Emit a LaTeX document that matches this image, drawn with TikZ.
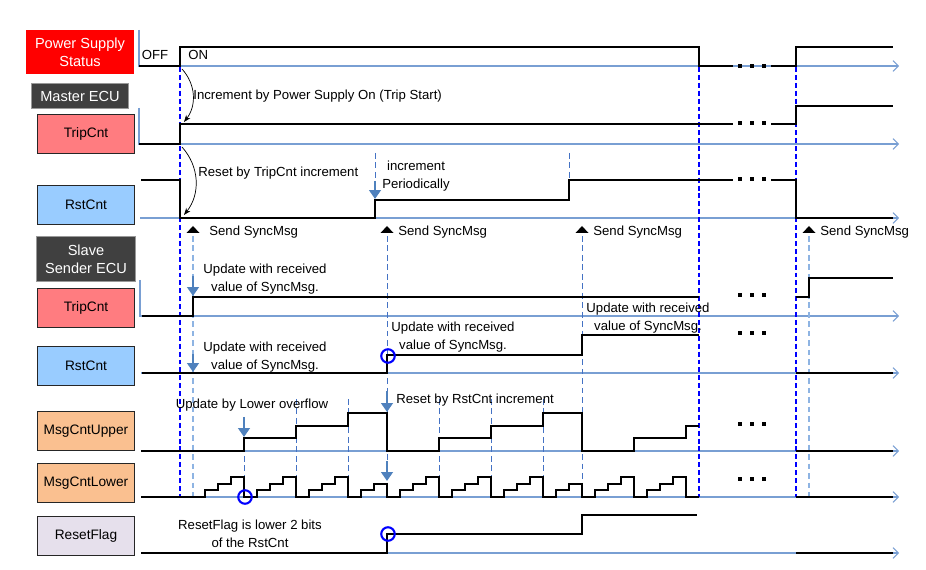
\documentclass[tikz,border=0pt]{standalone}
\usepackage{fontspec}
\setmainfont{Liberation Sans}
\usepackage{xcolor}
\usepackage{tikz}
\usetikzlibrary{
  arrows.meta,
  positioning,
  calc
}

\definecolor{psred}{RGB}{255,0,0}
\definecolor{ecugray}{RGB}{64,64,64}
\definecolor{tripfill}{RGB}{255,124,128}
\definecolor{rstfill}{RGB}{153,204,255}
\definecolor{msgfill}{RGB}{250,192,144}
\definecolor{flagfill}{RGB}{230,224,236}
\definecolor{axisblue}{RGB}{121,159,211}
\definecolor{tickblue}{RGB}{68,114,196}
\definecolor{paleblue}{RGB}{142,180,227}
\definecolor{arrowblue}{RGB}{79,129,189}

\begin{document}
\begin{tikzpicture}[
  x=0.02cm, y=-0.02cm,
  font=\fontsize{7.5}{10.2}\selectfont,
  lblbox/.style={draw=black!85, line width=0.8pt, minimum width=1.94cm, minimum height=0.78cm, inner sep=0pt, align=center, font=\fontsize{7.8}{10.2}\selectfont},
  ecubox/.style={fill=ecugray, draw=black!40, text=white, inner sep=0pt, align=center, font=\fontsize{8.3}{10.2}\selectfont},
  axisline/.style={draw=axisblue, line width=0.6pt, -{Straight Barb[length=3pt, width=6pt]}},
  originline/.style={draw=axisblue, line width=0.6pt},
  sigline/.style={draw=black, line width=1.2pt},
  syncline/.style={draw=blue, line width=0.8pt, dash pattern=on 2.8pt off 1.7pt},
  tickline/.style={draw=tickblue, line width=0.45pt, dash pattern=on 3.2pt off 2.2pt},
  paleline/.style={draw=paleblue, line width=0.6pt, dash pattern=on 3.2pt off 2.2pt},
  bendarrow/.style={draw=black, line width=0.4pt, -{Stealth[length=4pt, width=3pt]}},
  updarrow/.style={draw=arrowblue, line width=1.7pt, -{Triangle[length=5pt, width=6.5pt]}},
  hitring/.style={circle, draw=blue, line width=1.2pt, minimum size=0.27cm, inner sep=0pt},
  note/.style={inner sep=0pt, align=center}
]
\useasboundingbox (0,0) rectangle (926,570);

% ============ LABEL BOXES ============
\node[ecubox, fill=psred, draw=none, minimum width=2.16cm, minimum height=0.88cm] (psbox) at (80,52) {Power Supply\\Status};
\node[ecubox, minimum width=1.94cm, minimum height=0.5cm] (masterbox) at (80,96) {Master ECU};
\node[lblbox, fill=tripfill] (mtripbox) at (86,134) {TripCnt};
\node[lblbox, fill=rstfill] (mrstbox) at (86,205) {RstCnt};
\node[ecubox, minimum width=1.98cm, minimum height=0.9cm] (slavebox) at (86,259) {Slave\\Sender ECU};
\node[lblbox, fill=tripfill] (stripbox) at (86,308) {TripCnt};
\node[lblbox, fill=rstfill] (srstbox) at (86,366) {RstCnt};
\node[lblbox, fill=msgfill] (upperbox) at (86,431) {MsgCntUpper};
\node[lblbox, fill=msgfill] (lowerbox) at (86,483) {MsgCntLower};
\node[lblbox, fill=flagfill] (flagbox) at (86,536) {ResetFlag};

% ============ AXES ============
\draw[originline] (139,30) -- (139,67);
\draw[originline] (139,108) -- (139,145);
\draw[originline] (140,280) -- (140,317);
\foreach \y/\xs in {66/139,144/139,218/140,316/140,373/141,451/141,497/141,553/141}
  \draw[axisline] (\xs,\y) -- (899,\y);

% ============ TIMING LINES ============
\foreach \x in {180,699,796}
  \draw[syncline] (\x,67) -- (\x,497);
\foreach \x in {193,809}
  \draw[paleline] (\x,236) -- (\x,497);
\draw[tickline] (375,153) -- (375,200);
\draw[tickline] (569,153) -- (569,180);
\draw[tickline] (387,236) -- (387,484);
\draw[tickline] (582,236) -- (582,484);
\draw[tickline] (244,437) -- (244,497);
\foreach \x in {296,348,439,491,543}
  \draw[tickline] (\x,399) -- (\x,497);

% ============ MASTER ECU ============
\draw[sigline] (139,66) -- (180,66) -- (180,47) -- (699,47) -- (699,66) -- (733,66);
\draw[sigline] (771,66) -- (796,66) -- (796,47) -- (893,47);
\draw[sigline] (139,144) -- (180,144) -- (180,124) -- (733,124);
\draw[sigline] (771,124) -- (796,124) -- (796,106) -- (893,106);
\draw[sigline] (141,180) -- (180,180) -- (180,218) -- (375,218) -- (375,200)
   -- (569,200) -- (569,180) -- (733,180);
\draw[sigline] (771,180) -- (796,180) -- (796,218) -- (893,218);

\node[note] (offlbl) at (155,55) {OFF};
\node[note, anchor=west] (onlbl) at (188,55) {ON};
\coordinate (incA) at (182,69);
\coordinate (incB) at (184,122);
\draw[bendarrow] (incA) to[bend left=40] (incB);
\node[note, anchor=west] (inclbl) at (193,96) {Increment by Power Supply On (Trip Start)};
\coordinate (rstA) at (182,147);
\coordinate (rstB) at (184,215);
\draw[bendarrow] (rstA) to[bend left=40] (rstB);
\node[note, anchor=west] (rstlbl) at (198,173) {Reset by TripCnt increment};
\node[note] (perlbl) at (416,176) {increment\\Periodically};

% ============ SEND SYNCMSG ============
\foreach \x/\tx in {193/209,387/398,582/593,809/820} {
  \fill (\x-6.5,233) -- (\x+6.5,233) -- (\x,226) -- cycle;
  \node[note, anchor=west] (send\x) at (\tx,232) {Send SyncMsg};
}

% ============ SLAVE SENDER ECU ============
\draw[sigline] (142,316) -- (193,316) -- (193,297) -- (699,297);
\draw[sigline] (796,297) -- (809,297) -- (809,278) -- (893,278);
\draw[sigline] (142,373) -- (387,373) -- (387,355) -- (582,355) -- (582,335) -- (699,335);
\draw[sigline] (796,373) -- (893,373);
\node[note] (stripupd) at (265,279) {Update with received\\value of SyncMsg.};
\node[note] (srstupdA) at (265,357) {Update with received\\value of SyncMsg.};
\node[note] (srstupdB) at (453,337) {Update with received\\value of SyncMsg.};
\node[note] (srstupdC) at (648,318) {Update with received\\value of SyncMsg.};

% ============ MESSAGE COUNTER ============
\draw[sigline] (141,451) -- (244,451) -- (244,438) -- (296,438) -- (296,426) -- (348,426)
   -- (348,413) -- (387,413) -- (387,451) -- (439,451) -- (439,438) -- (491,438)
   -- (491,426) -- (543,426) -- (543,413) -- (582,413) -- (582,451) -- (634,451)
   -- (634,438) -- (686,438) -- (686,426) -- (699,426);
\draw[sigline] (796,451) -- (893,451);
\draw[sigline] (141,497)
   \foreach \s in {192,244,296} { -- (\s,497) -- (\s+13,497) -- (\s+13,490) -- (\s+26,490)
      -- (\s+26,484) -- (\s+39,484) -- (\s+39,477) -- (\s+52,477) -- (\s+52,497) }
   -- (361,497) -- (361,490) -- (374,490) -- (374,484) -- (387,484) -- (387,497)
   \foreach \s in {387,439,491} { -- (\s,497) -- (\s+13,497) -- (\s+13,490) -- (\s+26,490)
      -- (\s+26,484) -- (\s+39,484) -- (\s+39,477) -- (\s+52,477) -- (\s+52,497) }
   -- (556,497) -- (556,490) -- (569,490) -- (569,484) -- (582,484) -- (582,497)
   \foreach \s in {582,634} { -- (\s,497) -- (\s+13,497) -- (\s+13,490) -- (\s+26,490)
      -- (\s+26,484) -- (\s+39,484) -- (\s+39,477) -- (\s+52,477) -- (\s+52,497) }
   -- (699,497);
\draw[sigline] (796,497) -- (893,497);
\node[note] (ovflbl) at (252,405) {Update by Lower overflow};
\node[note, anchor=west] (resetlbl) at (396,400) {Reset by RstCnt increment};

% ============ RESET FLAG ============
\draw[sigline] (141,553) -- (387,553) -- (387,534) -- (582,534) -- (582,515) -- (697,515);
\draw[sigline] (796,553) -- (893,553);
\node[note] (flaglbl) at (250,534) {ResetFlag is lower 2 bits\\of the RstCnt};

% ============ MARKERS ============
\foreach \x/\ya/\yb [count=\i] in {375/181/199,193/276/296,193/354/372,244/417/437,387/391/412,387/461/481} {
  \coordinate (ua\i) at (\x,\ya);
  \coordinate (ub\i) at (\x,\yb);
  \draw[updarrow] (ua\i) -- (ub\i);
}
\node[hitring] (ringA) at (245,497) {};
\node[hitring] (ringB) at (388,356) {};
\node[hitring] (ringC) at (388,534) {};
\foreach \y in {66,123,179,295,333,424,479}
  \foreach \x in {740,752,764}
    \fill (\x-1.9,\y-1.8) rectangle (\x+1.9,\y+1.8);

\end{tikzpicture}
\end{document}
